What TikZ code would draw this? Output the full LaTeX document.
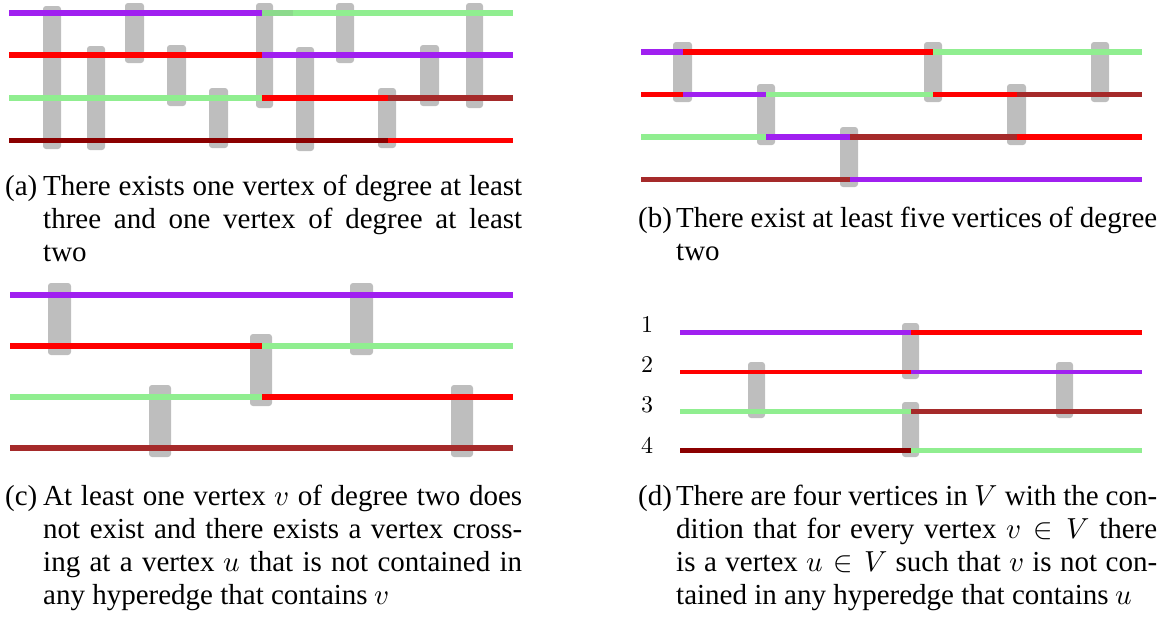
\documentclass[tikz,border=0pt]{standalone}
\usepackage{fontspec}
\usepackage{unicode-math}
\setmainfont{Liberation Serif}
\setmathfont{Latin Modern Math}
\definecolor{hpurple}{RGB}{160,32,240}
\definecolor{hred}{RGB}{255,0,0}
\definecolor{hgreen}{RGB}{144,238,144}
\definecolor{hgreendk}{RGB}{140,218,140}
\definecolor{hbrown}{RGB}{165,42,42}
\definecolor{hdark}{RGB}{139,0,0}
\definecolor{hgray}{RGB}{190,190,190}
\tikzset{
  hedge/.style={fill=hgray, rounded corners=3pt},
  wa/.style={line width=5.3pt, line cap=butt},
  wc/.style={line width=6pt, line cap=butt},
  wd/.style={line width=4.6pt, line cap=butt},
  captext/.style={anchor=base west, inner sep=0pt, font=\fontsize{29}{33}\selectfont},
  rowlabel/.style={inner sep=0pt, font=\fontsize{24}{24}\selectfont}
}
\begin{document}
\begin{tikzpicture}[x=1pt,y=-1pt]
\useasboundingbox (0,0) rectangle (1164,621);
% ---------------- (a) ----------------
\fill[hedge] (43,6) rectangle (61,149);
\fill[hedge] (87,46) rectangle (105,150);
\fill[hedge] (125,3) rectangle (144,63);
\fill[hedge] (167,45) rectangle (186,106);
\fill[hedge] (209,88) rectangle (228,148);
\fill[hedge] (256,3) rectangle (273,108);
\fill[hedge] (296,47) rectangle (314,151);
\fill[hedge] (336,3) rectangle (354,63);
\fill[hedge] (378,88) rectangle (396,148);
\fill[hedge] (420,45) rectangle (439,106);
\fill[hedge] (466,3) rectangle (483,108);
\draw[wa,hpurple] (9,13) -- (262,13);
\draw[wa,hgreen] (262,13) -- (513,13);
\draw[wa,hgreendk] (262,13) -- (293,13);
\draw[wa,hred] (9,55) -- (262,55);
\draw[wa,hpurple] (262,55) -- (513,55);
\draw[wa,hgreen] (9,98) -- (262,98);
\draw[wa,hred] (262,98) -- (388,98);
\draw[wa,hbrown] (388,98) -- (513,98);
\draw[wa,hdark] (9,140.5) -- (388,140.5);
\draw[wa,hred] (388,140.5) -- (513,140.5);
\node[captext] (capa) at (5,195) {\parbox[t]{517pt}{\hangindent=38pt\hangafter=1\makebox[38pt][l]{(a)}There exists one vertex of degree at least\linebreak three and one vertex of degree at least\linebreak two}};
% ---------------- (b) ----------------
\fill[hedge] (673,42) rectangle (692,102);
\fill[hedge] (757,84) rectangle (775,145);
\fill[hedge] (840,127) rectangle (858,187);
\fill[hedge] (924,42) rectangle (942,102);
\fill[hedge] (1007,84) rectangle (1026,145);
\fill[hedge] (1091,42) rectangle (1109,102);
\draw[wa,hpurple] (641,52) -- (683,52);
\draw[wa,hred] (683,52) -- (933,52);
\draw[wa,hgreen] (933,52) -- (1142,52);
\draw[wa,hred] (641,94.5) -- (683,94.5);
\draw[wa,hpurple] (683,94.5) -- (766,94.5);
\draw[wa,hgreen] (766,94.5) -- (933,94.5);
\draw[wa,hred] (933,94.5) -- (1017,94.5);
\draw[wa,hbrown] (1017,94.5) -- (1142,94.5);
\draw[wa,hgreen] (641,137) -- (766,137);
\draw[wa,hpurple] (766,137) -- (850,137);
\draw[wa,hbrown] (850,137) -- (1017,137);
\draw[wa,hred] (1017,137) -- (1142,137);
\draw[wa,hbrown] (641,179.7) -- (850,179.7);
\draw[wa,hpurple] (850,179.7) -- (1142,179.7);
\node[captext] (capb) at (638,227) {\parbox[t]{519pt}{\hangindent=38pt\hangafter=1\makebox[38pt][l]{(b)}There exist at least five vertices of degree\linebreak two}};
% ---------------- (c) ----------------
\fill[hedge] (48,283) rectangle (71,355);
\fill[hedge] (250,334) rectangle (272,406);
\fill[hedge] (350,283) rectangle (373,355);
\fill[hedge] (149,385) rectangle (171,457);
\fill[hedge] (451,385) rectangle (473,457);
\draw[wc,hpurple] (10,295) -- (513,295);
\draw[wc,hred] (10,346) -- (262,346);
\draw[wc,hgreen] (262,346) -- (513,346);
\draw[wc,hgreen] (10,397) -- (262,397);
\draw[wc,hred] (262,397) -- (513,397);
\draw[wc,hbrown] (10,448.3) -- (513,448.3);
\node[captext] (capc) at (5,505) {\parbox[t]{517pt}{\hangindent=38pt\hangafter=1\makebox[38pt][l]{(c)}At least one vertex $v$ of degree two does\linebreak not exist and there exists a vertex cross-\linebreak ing at a vertex $u$ that is not contained in\linebreak any hyperedge that contains $v$}};
% ---------------- (d) ----------------
\fill[hedge] (902,323) rectangle (919,379);
\fill[hedge] (902,402) rectangle (919,457);
\fill[hedge] (748,362) rectangle (765,418);
\fill[hedge] (1056,362) rectangle (1073,418);
\draw[wd,hpurple] (680,332.3) -- (911,332.3);
\draw[wd,hred] (911,332.3) -- (1142,332.3);
\draw[wd,hred] (680,372) -- (911,372);
\draw[wd,hpurple] (911,372) -- (1142,372);
\draw[wd,hgreen] (680,411.3) -- (911,411.3);
\draw[wd,hbrown] (911,411.3) -- (1142,411.3);
\draw[wd,hdark] (680,450.7) -- (911,450.7);
\draw[wd,hgreen] (911,450.7) -- (1142,450.7);
\node[rowlabel] (r1) at (647,325) {$1$};
\node[rowlabel] (r2) at (647,365) {$2$};
\node[rowlabel] (r3) at (647,405) {$3$};
\node[rowlabel] (r4) at (647,445) {$4$};
\node[captext] (capd) at (638,505) {\parbox[t]{519pt}{\hangindent=38pt\hangafter=1\makebox[38pt][l]{(d)}There are four vertices in $V$ with the con-\linebreak dition that for every vertex $v\in V$ there\linebreak is a vertex $u\in V$ such that $v$ is not con-\linebreak tained in any hyperedge that contains $u$}};
\end{tikzpicture}
\end{document}
